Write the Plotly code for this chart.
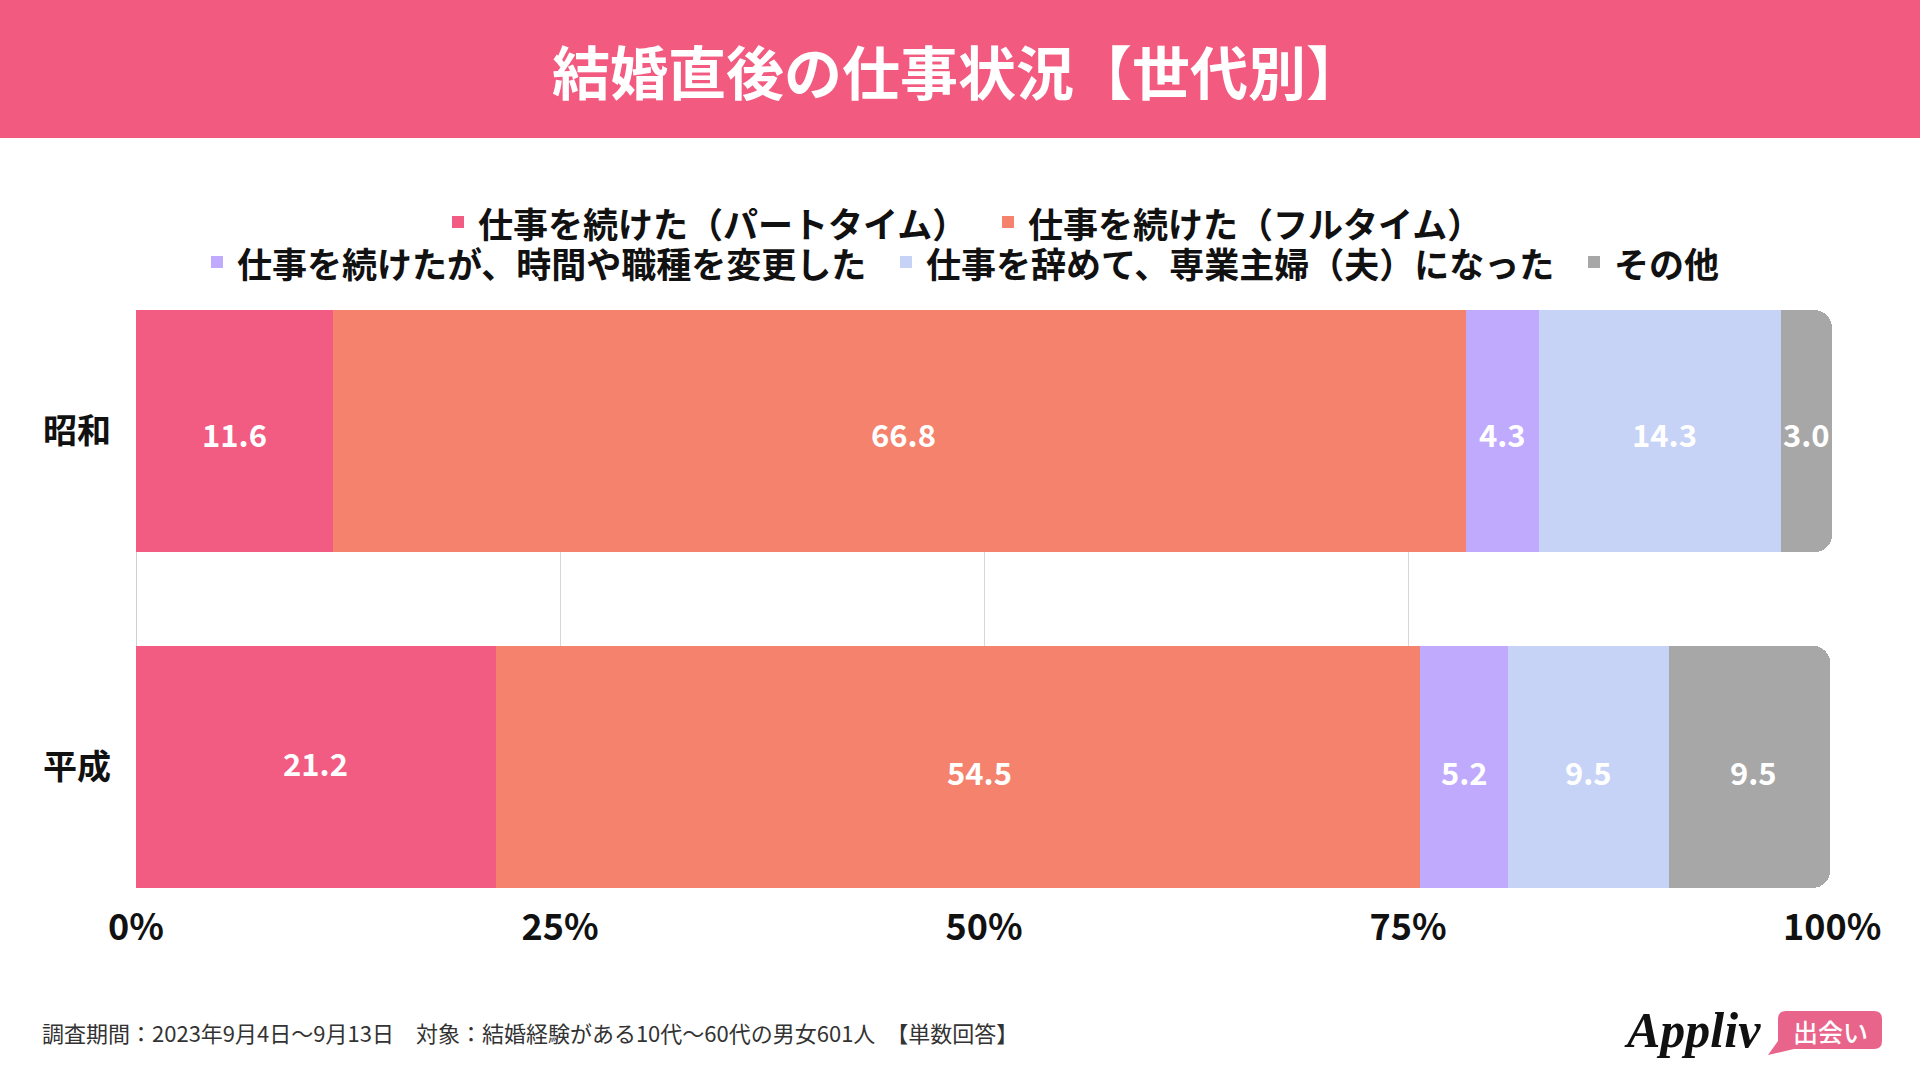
import plotly.graph_objects as go

# ---------------- data ----------------
categories = ["昭和", "平成"]
series_names = [
    "仕事を続けた（パートタイム）",
    "仕事を続けた（フルタイム）",
    "仕事を続けたが、時間や職種を変更した",
    "仕事を辞めて、専業主婦（夫）になった",
    "その他",
]
showa_values = [11.6, 66.8, 4.3, 14.3, 3.0]
heisei_values = [21.2, 54.5, 5.2, 9.5, 9.5]
tick_values = [0, 25, 50, 75, 100]
tick_labels = ["0%", "25%", "50%", "75%", "100%"]
colors = ["#F25B82", "#F5826C", "#C0AAFD", "#C7D3F6", "#A7A7A7"]

title_text = "結婚直後の仕事状況【世代別】"
footer_text = "調査期間：2023年9月4日〜9月13日　対象：結婚経験がある10代〜60代の男女601人　【単数回答】"

# ---------------- geometry ----------------
W, H = 1920, 1080
ML, MR, MT, MB = 136, 87, 310, 192
PW = W - ML - MR
PH = H - MT - MB


def px(x):
    return (x - ML) / PW


def py(y):
    return (H - MB - y) / PH


FONT = "Noto Sans CJK JP"
values_by_cat = {"昭和": showa_values, "平成": heisei_values}

fig = go.Figure()
for i, name in enumerate(series_names):
    fig.add_trace(go.Bar(
        y=categories,
        x=[values_by_cat[c][i] for c in categories],
        orientation="h",
        name=name,
        marker=dict(color=colors[i], line=dict(width=0)),
        showlegend=False,
        hoverinfo="skip",
    ))

# value labels (small placement tweaks as in the reference)
label_yshift = {"昭和": -2, "平成": -5}
special_yshift = {("平成", 0): 4}
special_xshift = {("昭和", 1): 4, ("平成", 1): 22, ("昭和", 3): 5, ("平成", 4): 4}
annotations = []
for c in categories:
    cum = 0.0
    for i, v in enumerate(values_by_cat[c]):
        annotations.append(dict(
            x=cum + v / 2, y=c, xref="x", yref="y",
            text=f"<b>{v:.1f}</b>", showarrow=False,
            font=dict(family=FONT, size=31, color="white"),
            yshift=special_yshift.get((c, i), label_yshift[c]),
            xshift=special_xshift.get((c, i), 0),
        ))
        cum += v

# title
annotations.append(dict(
    x=px(958), y=py(70), xref="paper", yref="paper",
    text=f"<b>{title_text}</b>", showarrow=False,
    xanchor="center", yanchor="middle",
    font=dict(family=FONT, size=58, color="white"),
))

# legend (custom, two centred rows)
legend_pos = [(452, 222), (1002, 222), (211, 262), (900, 262), (1588, 262)]
shapes = [dict(
    type="rect", xref="paper", yref="paper",
    x0=px(0), x1=px(W), y0=py(138), y1=py(-2),
    fillcolor="#F35A80", line=dict(width=0), layer="below",
)]
for i, name in enumerate(series_names):
    mx, my = legend_pos[i]
    s = 12
    shapes.append(dict(
        type="rect", xref="paper", yref="paper",
        x0=px(mx), x1=px(mx + s), y0=py(my + s / 2), y1=py(my - s / 2),
        fillcolor=colors[i], line=dict(width=0),
    ))
    annotations.append(dict(
        x=px(mx + 24), y=py(my), xref="paper", yref="paper",
        text=f"<b>{name}</b>", showarrow=False,
        xanchor="left", yanchor="middle",
        font=dict(family=FONT, size=35, color="#111111"),
    ))

# footer
annotations.append(dict(
    x=px(40), y=py(1032), xref="paper", yref="paper",
    text=footer_text, showarrow=False,
    xanchor="left", yanchor="middle",
    font=dict(family=FONT, size=22, color="#333333"),
))

# logo
annotations.append(dict(
    x=px(1692), y=py(1030), xref="paper", yref="paper",
    text="Appliv", showarrow=False,
    xanchor="center", yanchor="middle",
    font=dict(family="Liberation Serif", size=50, color="#111111",
              style="italic", weight="bold"),
))
bx0, bx1, by0, by1, r = 1778, 1882, 1011, 1049, 8


def P(x, y):
    return f"{px(x):.5f},{py(y):.5f}"


path = (
    f"M {P(bx0 + r, by0)} L {P(bx1 - r, by0)} Q {P(bx1, by0)} {P(bx1, by0 + r)} "
    f"L {P(bx1, by1 - r)} Q {P(bx1, by1)} {P(bx1 - r, by1)} "
    f"L {P(bx0 + 16, by1)} L {P(bx0 - 10, by1 + 6)} L {P(bx0, by1 - 8)} "
    f"L {P(bx0, by0 + r)} Q {P(bx0, by0)} {P(bx0 + r, by0)} Z"
)
shapes.append(dict(type="path", xref="paper", yref="paper", path=path,
                   fillcolor="#E8648A", line=dict(width=0)))
annotations.append(dict(
    x=px((bx0 + bx1) / 2), y=py(1031), xref="paper", yref="paper",
    text="出会い", showarrow=False, xanchor="center", yanchor="middle",
    font=dict(family=FONT, size=25, color="white", weight=500),
))

fig.update_layout(
    width=W, height=H,
    margin=dict(l=ML, r=MR, t=MT, b=MB, pad=0),
    paper_bgcolor="white", plot_bgcolor="white",
    barmode="stack", bargap=0.278, barcornerradius=18,
    showlegend=False,
    annotations=annotations,
    shapes=shapes,
    xaxis=dict(
        range=[0, 100.05], tickvals=tick_values, ticktext=tick_labels,
        showgrid=True, gridcolor="#D6D6D6", gridwidth=1,
        zeroline=True, zerolinecolor="#D0D0D0", zerolinewidth=1,
        showline=False, ticks="", ticklabelstandoff=15,
        tickfont=dict(family=FONT, size=36, color="#111111", weight="bold"),
        fixedrange=True,
    ),
    yaxis=dict(
        type="category", categoryorder="array", categoryarray=categories,
        range=[1.361, -0.361], showgrid=False, zeroline=False, showline=False,
        ticks="", ticklabelstandoff=24,
        tickfont=dict(family=FONT, size=34, color="#111111", weight="bold"),
        fixedrange=True,
    ),
)

fig.write_html(
    "out.html",
    config={"displayModeBar": False},
    post_script="document.body.style.margin='0';document.body.style.overflow='hidden';",
)
